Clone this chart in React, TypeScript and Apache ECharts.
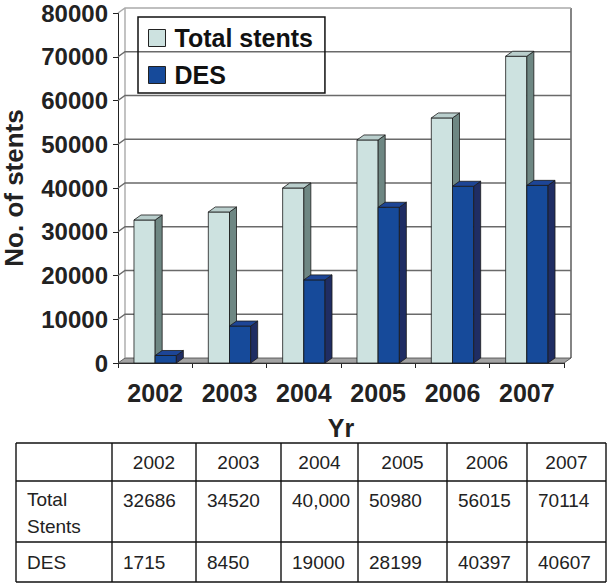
import React, { useEffect, useRef } from "react";
import * as echarts from "echarts";

const categories = ["2002", "2003", "2004", "2005", "2006", "2007"];
const totalStents = [32686, 34520, 40000, 50980, 56015, 70114];
const desStents = [1715, 8450, 19000, 35600, 40397, 40607];
const yTicks = [0, 10000, 20000, 30000, 40000, 50000, 60000, 70000, 80000];
const tableRowLabels = ["Total\nStents", "DES"];
const tableTotal = ["32686", "34520", "40,000", "50980", "56015", "70114"];
const tableDES = ["1715", "8450", "19000", "28199", "40397", "40607"];

const FONT = '"Liberation Sans", Arial, sans-serif';
const DX = 7;
const DY = 5;

function makeBar(side: number, front: string, sideC: string, topC: string) {
  return (params: any, api: any) => {
    const i = api.value(0);
    const v = api.value(1);
    const top = api.coord([i, v]);
    const base = api.coord([i, 0]);
    const band = api.size([1, 0])[0];
    const w = band * 0.285;
    const x0 = side < 0 ? top[0] - w : top[0];
    const x1 = x0 + w;
    const yT = top[1];
    const yB = base[1];
    const st = { stroke: "#1a1a1a", lineWidth: 0.8 };
    return {
      type: "group",
      children: [
        { type: "polygon", shape: { points: [[x0, yT], [x1, yT], [x1, yB], [x0, yB]] }, style: { fill: front, ...st } },
        { type: "polygon", shape: { points: [[x1, yT], [x1 + DX, yT - DY], [x1 + DX, yB - DY], [x1, yB]] }, style: { fill: sideC, ...st } },
        { type: "polygon", shape: { points: [[x0, yT], [x1, yT], [x1 + DX, yT - DY], [x0 + DX, yT - DY]] }, style: { fill: topC, ...st } },
      ],
    };
  };
}

function renderWalls(params: any, api: any) {
  const cs = params.coordSys;
  const t = api.value(0);
  const y = api.coord([0, t])[1];
  const left = cs.x;
  const right = cs.x + cs.width;
  const children: any[] = [];
  if (t === 0) {
    children.push({
      type: "polygon",
      shape: { points: [[left, y], [right, y], [right + DX, y - DY], [left + DX, y - DY]] },
      style: { fill: "#a3a3a3", stroke: "#444", lineWidth: 0.8 },
    });
    children.push({
      type: "line",
      shape: { x1: left + DX, y1: y - DY, x2: left + DX, y2: cs.y - DY },
      style: { stroke: "#9a9a9a", lineWidth: 1.2 },
    });
    children.push({
      type: "line",
      shape: { x1: right + DX, y1: y - DY, x2: right + DX, y2: cs.y - DY },
      style: { stroke: "#333", lineWidth: 1.2 },
    });
  } else {
    const col = t === 80000 ? "#aaaaaa" : "#6a6a6a";
    children.push({
      type: "polyline",
      shape: { points: [[left, y], [left + DX, y - DY], [right + DX, y - DY]] },
      style: { stroke: col, lineWidth: 1.5, fill: null },
    });
  }
  return { type: "group", children };
}

function buildTable() {
  const xs = [16, 112, 196, 281, 358, 447, 527, 606];
  const ys = [443, 481, 542, 582];
  const els: any[] = [];
  const ls = { stroke: "#111", lineWidth: 1.4 };
  xs.forEach((x) => els.push({ type: "line", shape: { x1: x, y1: ys[0], x2: x, y2: ys[3] }, style: ls }));
  ys.forEach((y) => els.push({ type: "line", shape: { x1: xs[0], y1: y, x2: xs[7], y2: y }, style: ls }));
  const tf = { fill: "#222", fontSize: 19, fontFamily: FONT };
  categories.forEach((c, i) => {
    els.push({ type: "text", x: (xs[i + 1] + xs[i + 2]) / 2, y: 462, style: { text: c, align: "center", verticalAlign: "middle", ...tf } });
  });
  els.push({ type: "text", x: 27, y: 513, style: { text: tableRowLabels[0], align: "left", verticalAlign: "middle", lineHeight: 27, ...tf } });
  els.push({ type: "text", x: 27, y: 562, style: { text: tableRowLabels[1], align: "left", verticalAlign: "middle", ...tf } });
  tableTotal.forEach((s, i) => {
    els.push({ type: "text", x: xs[i + 1] + 11, y: 500, style: { text: s, align: "left", verticalAlign: "middle", ...tf } });
  });
  tableDES.forEach((s, i) => {
    els.push({ type: "text", x: xs[i + 1] + 11, y: 562, style: { text: s, align: "left", verticalAlign: "middle", ...tf } });
  });
  return els;
}

export default function App() {
  const ref = useRef<HTMLDivElement>(null);
  useEffect(() => {
    if (!ref.current) return;
    const chart = echarts.init(ref.current, null, { renderer: "svg" });
    chart.setOption({
      animation: false,
      backgroundColor: "#ffffff",
      grid: { left: 118, right: 43, top: 13, bottom: 220, containLabel: false, outerBoundsMode: "none" },
      legend: {
        orient: "vertical",
        left: 138,
        top: 17,
        padding: [7, 12, 4, 10],
        borderColor: "#111",
        borderWidth: 1.5,
        itemWidth: 17,
        itemHeight: 17,
        itemGap: 9,
        textStyle: { fontSize: 25, fontWeight: "bold", fontFamily: FONT, color: "#111", lineHeight: 28, padding: [0, 0, 0, 4] },
        data: [
          { name: "Total stents", icon: "rect", itemStyle: { color: "#cde2e0", borderColor: "#222", borderWidth: 1 } },
          { name: "DES", icon: "rect", itemStyle: { color: "#164a9a", borderColor: "#222", borderWidth: 1 } },
        ],
      },
      xAxis: {
        type: "category",
        data: categories,
        name: "Yr",
        nameLocation: "middle",
        nameGap: 52,
        nameTextStyle: { fontSize: 25, fontWeight: "bold", fontFamily: FONT, color: "#222" },
        axisLine: { show: true, lineStyle: { color: "#222", width: 1 } },
        axisTick: { show: true, length: 5, interval: 0, lineStyle: { color: "#222" } },
        axisLabel: { interval: 0, margin: 17, fontSize: 25, fontWeight: "bold", fontFamily: FONT, color: "#222" },
        splitLine: { show: false },
      },
      yAxis: {
        type: "value",
        min: 0,
        max: 80000,
        interval: 10000,
        name: "No. of stents",
        nameLocation: "middle",
        nameRotate: 90,
        nameGap: 91,
        nameTextStyle: { fontSize: 26, fontWeight: "bold", fontFamily: FONT, color: "#222" },
        axisLine: { show: true, lineStyle: { color: "#222", width: 1 } },
        axisTick: { show: true, length: 5, lineStyle: { color: "#222" } },
        axisLabel: { margin: 10, fontSize: 24, fontWeight: "bold", fontFamily: FONT, color: "#222", formatter: (v: number) => String(v) },
        splitLine: { show: false },
      },
      series: [
        {
          type: "custom",
          name: "walls",
          renderItem: renderWalls,
          data: yTicks.map((t) => [t]),
          encode: { y: 0 },
          silent: true,
          z: 1,
        },
        {
          type: "custom",
          name: "Total stents",
          renderItem: makeBar(-1, "#cde2e0", "#6e8783", "#b9cecc"),
          data: totalStents.map((v, i) => [i, v]),
          encode: { x: 0, y: 1 },
          itemStyle: { color: "#cde2e0" },
          z: 2,
        },
        {
          type: "custom",
          name: "DES",
          renderItem: makeBar(1, "#164a9a", "#1f2d63", "#1d4596"),
          data: desStents.map((v, i) => [i, v]),
          encode: { x: 0, y: 1 },
          itemStyle: { color: "#164a9a" },
          z: 3,
        },
      ],
      graphic: buildTable(),
    });
    return () => chart.dispose();
  }, []);
  return <div ref={ref} style={{ position: "fixed", left: 0, top: 0, width: 607, height: 583 }} />;
}
